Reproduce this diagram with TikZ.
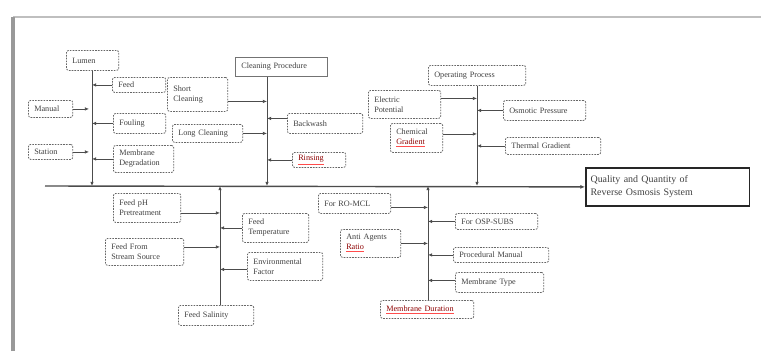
\documentclass[tikz,border=0pt]{standalone}
\usepackage{fontspec}
\setmainfont{Liberation Serif}
\usetikzlibrary{arrows.meta,calc}
\newcommand{\spellmark}[1]{{\color{red!70}\underline{\textcolor{red!55!black}{#1}}}}

\begin{document}
\begin{tikzpicture}[x=0.03cm,y=-0.03cm,
    cause/.style={draw=black!60, dash pattern=on 1.4pt off 1pt, line width=0.7pt,
      rounded corners=2pt, anchor=north west, inner ysep=2pt, inner xsep=5pt, align=left,
      font=\fontsize{7}{8.5}\selectfont, text=black!75},
    headbox/.style={draw=black!55, line width=0.8pt, anchor=north west, inner ysep=2pt,
      inner xsep=5pt, align=left, font=\fontsize{7}{8.5}\selectfont, text=black!75},
    effect/.style={draw=black!85, line width=1.5pt, anchor=north west, inner sep=4pt,
      align=left, font=\fontsize{8.5}{11}\selectfont, text=black!75},
    bone/.style={draw=black!70, line width=0.8pt, -{Latex[length=3.5pt,width=3pt]}},
    twig/.style={draw=black!70, line width=0.6pt, -{Latex[length=3.5pt,width=3pt]}}]
    \useasboundingbox (0,0) rectangle (761,351);

    % page edge
    \draw[black!25, line width=1.2pt] (13,17) -- (761,17);
    \draw[black!40, line width=3pt] (13,351) -- (13,17);

    % effect and spine
    \node[effect, text width=4.63cm, minimum height=1.14cm] (result) at (585,167)
      {Quality and Quantity of\\Reverse Osmosis System};
    \coordinate (tail) at (45,186);
    \draw[draw=black!70, line width=1.2pt, -{Latex[length=4pt,width=3.5pt]}] (tail) -- (result.west);

    % points on the spine
    \coordinate (b1) at (92,186);
    \coordinate (b2) at (267,186);
    \coordinate (b3) at (477,186);
    \coordinate (b4) at (220,186);
    \coordinate (b5) at (428,186);

    % first bone
    \node[cause, text width=1.22cm, minimum height=0.6cm] (lumen) at (66,50) {Lumen};
    \node[cause, text width=1.25cm, minimum height=0.45cm] (feed) at (112,77) {Feed};
    \node[cause, text width=0.98cm, minimum height=0.51cm] (manual) at (28,100) {Manual};
    \node[cause, text width=1.22cm, minimum height=0.6cm] (fouling) at (113,113) {Fouling};
    \node[cause, text width=0.98cm, minimum height=0.45cm] (station) at (28,144) {Station};
    \node[cause, text width=1.46cm, minimum height=0.81cm] (membdeg) at (113,145) {Membrane\\Degradation};
    \draw[bone] (lumen.south -| b1) -- (b1);
    \draw[twig] (feed.west) -- (feed.west -| b1);
    \draw[twig] (manual.east) -- ($(manual.east -| b1)+(-3,0)$);
    \draw[twig] (fouling.west) -- (fouling.west -| b1);
    \draw[twig] (station.east) -- ($(station.east -| b1)+(-3,0)$);
    \draw[twig] (membdeg.west) -- (membdeg.west -| b1);

    % second bone
    \node[headbox, text width=2.42cm, minimum height=0.57cm] (cleanproc) at (235,57) {Cleaning Procedure};
    \node[cause, text width=1.46cm, minimum height=1.02cm] (shortcl) at (167,77) {Short\\Cleaning};
    \node[cause, text width=1.76cm, minimum height=0.54cm] (longcl) at (172,124) {Long Cleaning};
    \node[cause, text width=1.91cm, minimum height=0.6cm] (backwash) at (287,113) {Backwash};
    \node[cause, text width=1.25cm, minimum height=0.45cm] (rinsing) at (292,152) {\spellmark{Rinsing}};
    \draw[bone] (cleanproc.south -| b2) -- (b2);
    \draw[twig] ($(shortcl.east)+(0,7)$) -- ($(shortcl.east -| b2)+(0,7)$);
    \draw[twig] (longcl.east) -- (longcl.east -| b2);
    \draw[twig] ($(backwash.west)+(0,-5)$) -- ($(backwash.west -| b2)+(0,-5)$);
    \draw[twig] (rinsing.west) -- (rinsing.west -| b2);

    % third bone
    \node[cause, text width=2.57cm, minimum height=0.6cm] (opproc) at (428,65) {Operating Process};
    \node[cause, text width=1.82cm, minimum height=0.84cm] (elecpot) at (368,90) {Electric\\Potential};
    \node[cause, text width=1.22cm, minimum height=0.87cm] (chemgrad) at (390,123) {Chemical\\\spellmark{Gradient}};
    \node[cause, text width=2.12cm, minimum height=0.6cm] (osmotic) at (503,100) {Osmotic Pressure};
    \node[cause, text width=2.51cm, minimum height=0.51cm] (thermal) at (505,137) {Thermal Gradient};
    \draw[bone] (opproc.south -| b3) -- (b3);
    \draw[twig] ($(elecpot.east)+(0,-6)$) -- ($(elecpot.east -| b3)+(0,-6)$);
    \draw[twig] ($(chemgrad.east)+(0,-4)$) -- ($(chemgrad.east -| b3)+(0,-4)$);
    \draw[twig] (osmotic.west) -- (osmotic.west -| b3);
    \draw[twig] (thermal.west) -- (thermal.west -| b3);

    % fourth bone (below)
    \node[cause, text width=1.91cm, minimum height=0.6cm] (salinity) at (178,305) {Feed Salinity};
    \node[cause, text width=1.67cm, minimum height=0.87cm] (feedph) at (113,193) {Feed pH\\Pretreatment};
    \node[cause, text width=1.64cm, minimum height=0.87cm] (feedtemp) at (242,213) {Feed\\Temperature};
    \node[cause, text width=2.0cm, minimum height=0.81cm] (feedsrc) at (105,238) {Feed From\\Stream Source};
    \node[cause, text width=1.91cm, minimum height=0.84cm] (envfac) at (247,252) {Environmental\\Factor};
    \draw[bone] (salinity.north -| b4) -- (b4);
    \draw[twig] ($(feedph.east)+(0,5)$) -- ($(feedph.east -| b4)+(0,5)$);
    \draw[twig] (feedtemp.west) -- (feedtemp.west -| b4);
    \draw[twig] ($(feedsrc.east)+(0,-5)$) -- ($(feedsrc.east -| b4)+(0,-5)$);
    \draw[twig] ($(envfac.west)+(0,3)$) -- ($(envfac.west -| b4)+(0,3)$);

    % fifth bone (below)
    \node[cause, text width=2.45cm, minimum height=0.54cm] (membdur) at (380,300) {\spellmark{Membrane Duration}};
    \node[cause, text width=1.82cm, minimum height=0.6cm] (romcl) at (318,193) {For RO-MCL};
    \node[cause, text width=2.12cm, minimum height=0.48cm] (ospsubs) at (455,213) {For OSP-SUBS};
    \node[cause, text width=1.46cm, minimum height=0.84cm] (antiag) at (340,229) {Anti Agents\\\spellmark{Ratio}};
    \node[cause, text width=2.51cm, minimum height=0.45cm] (procman) at (453,247) {Procedural Manual};
    \node[cause, text width=2.3cm, minimum height=0.6cm] (membtype) at (455,272) {Membrane Type};
    \draw[bone] (membdur.north -| b5) -- (b5);
    \draw[twig] ($(romcl.east)+(0,4)$) -- ($(romcl.east -| b5)+(0,4)$);
    \draw[twig] (ospsubs.west) -- (ospsubs.west -| b5);
    \draw[twig] (antiag.east) -- (antiag.east -| b5);
    \draw[twig] (procman.west) -- (procman.west -| b5);
    \draw[twig] ($(membtype.west)+(0,-2)$) -- ($(membtype.west -| b5)+(0,-2)$);

\end{tikzpicture}
\end{document}
